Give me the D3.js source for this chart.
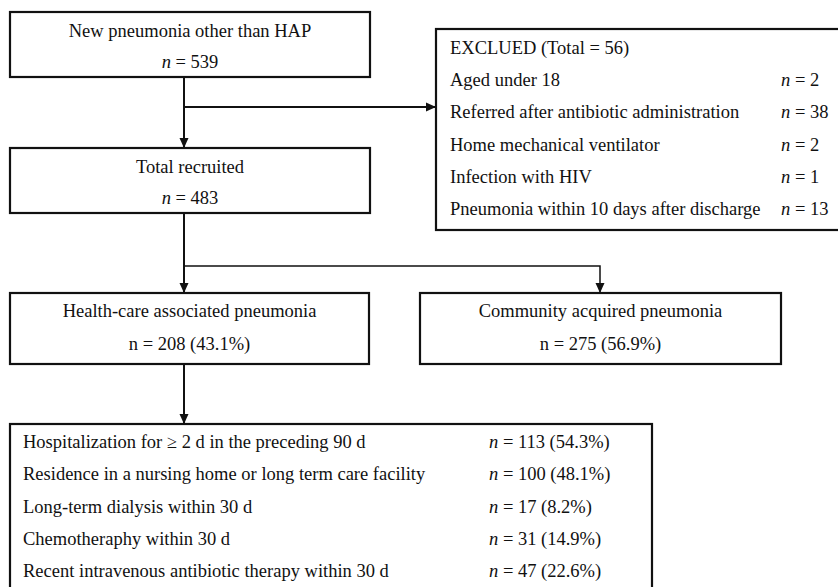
<!DOCTYPE html>
<html>
<head>
<meta charset="utf-8">
<script src="https://cdn.jsdelivr.net/npm/d3@7"></script>
<style>
  body { margin: 0; background: #fff; overflow: hidden; }
  svg { display: block; }
  text { font-family: "Liberation Serif", "Times New Roman", serif; font-size: 18.5px; fill: #111; }
</style>
</head>
<body>
<script>
// flow data
const stageTitles = ["New pneumonia other than HAP", "Total recruited"];
const stageCounts = [539, 483];

const excludedTotal = 56;
const excludedReasons = ["Aged under 18", "Referred after antibiotic administration",
  "Home mechanical ventilator", "Infection with HIV", "Pneumonia within 10 days after discharge"];
const excludedCounts = [2, 38, 2, 1, 13];

const groupTitles = ["Health-care associated pneumonia", "Community acquired pneumonia"];
const groupCounts = [208, 275];
const groupPercents = [43.1, 56.9];

const hcapCriteria = ["Hospitalization for \u2265 2 d in the preceding 90 d",
  "Residence in a nursing home or long term care facility",
  "Long-term dialysis within 30 d", "Chemotheraphy within 30 d",
  "Recent intravenous antibiotic therapy within 30 d"];
const hcapCounts = [113, 100, 17, 31, 47];
const hcapPercents = [54.3, 48.1, 8.2, 14.9, 22.6];

const width = 838, height = 587;

const svg = d3.select("body").append("svg")
    .attr("width", width)
    .attr("height", height);

svg.append("defs").append("marker")
    .attr("id", "arrow")
    .attr("viewBox", "0 0 10 10")
    .attr("refX", 10).attr("refY", 5)
    .attr("markerWidth", 10).attr("markerHeight", 10)
    .attr("markerUnits", "userSpaceOnUse")
    .attr("orient", "auto")
  .append("path")
    .attr("d", "M0,0.5L10,5L0,9.5Z")
    .attr("fill", "#111");

const box = (x, y, w, h) => svg.append("rect")
    .attr("x", x).attr("y", y).attr("width", w).attr("height", h)
    .attr("fill", "none").attr("stroke", "#111").attr("stroke-width", 2.2);

const link = (pts, sw = 2) => svg.append("path")
    .attr("d", d3.line()(pts))
    .attr("fill", "none").attr("stroke", "#111").attr("stroke-width", sw)
    .attr("marker-end", "url(#arrow)");

const nText = (sel, value, italic = true) => {
  sel.append("tspan").attr("font-style", italic ? "italic" : null).text("n");
  sel.append("tspan").text(" = " + value);
};

// stage boxes
const stageY = d3.scalePoint().domain(stageTitles).range([12, 148]);
stageTitles.forEach((t, i) => {
  const y0 = stageY(t);
  box(10, y0, 360, 65);
  svg.append("text").attr("x", 190).attr("y", y0 + 25).attr("text-anchor", "middle").text(t);
  nText(svg.append("text").attr("x", 190).attr("y", y0 + 56).attr("text-anchor", "middle"), stageCounts[i]);
});

// excluded box (runs off the right edge)
box(436, 29, 440, 201);
svg.append("text").attr("x", 450).attr("y", 54).text(`EXCLUED (Total = ${excludedTotal})`);
const exY = d3.scalePoint().domain(d3.range(excludedReasons.length)).range([86, 215]);
excludedReasons.forEach((r, i) => {
  svg.append("text").attr("x", 450).attr("y", exY(i)).text(r);
  nText(svg.append("text").attr("x", 781).attr("y", exY(i)), excludedCounts[i]);
});

// group boxes
const groupX = d3.scalePoint().domain(groupTitles).range([10, 420]);
groupTitles.forEach((t, i) => {
  const x0 = groupX(t), w = i === 0 ? 359 : 361;
  box(x0, 293, w, 71);
  svg.append("text").attr("x", x0 + w / 2).attr("y", 317).attr("text-anchor", "middle").text(t);
  nText(svg.append("text").attr("x", x0 + w / 2).attr("y", 350).attr("text-anchor", "middle"),
    `${groupCounts[i]} (${groupPercents[i]}%)`, false);
});

// HCAP criteria box
box(10, 424, 642, 200);
const crY = d3.scalePoint().domain(d3.range(hcapCriteria.length)).range([448, 577]);
hcapCriteria.forEach((c, i) => {
  svg.append("text").attr("x", 23).attr("y", crY(i)).text(c);
  nText(svg.append("text").attr("x", 489).attr("y", crY(i)), `${hcapCounts[i]} (${hcapPercents[i]}%)`);
});

// connectors
svg.append("path").attr("d", d3.line()([[184, 77], [184, 107]]))
    .attr("stroke", "#111").attr("stroke-width", 2);
link([[184, 107], [184, 148]]);
link([[184, 107], [436, 107]]);
svg.append("path").attr("d", d3.line()([[184, 213], [184, 266]]))
    .attr("stroke", "#111").attr("stroke-width", 2);
link([[184, 266], [184, 293]]);
link([[184, 266], [600, 266], [600, 293]], 1.5);
link([[184, 364], [184, 424]]);
</script>
</body>
</html>
